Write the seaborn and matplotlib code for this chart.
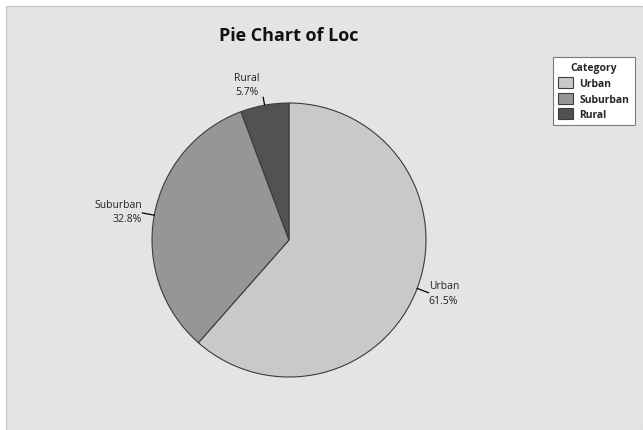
import numpy as np
import matplotlib
matplotlib.use("Agg")
import matplotlib.pyplot as plt
import seaborn as sns
from matplotlib.patches import Rectangle, Patch

categories = ["Urban", "Suburban", "Rural"]
percentages = [61.5, 32.8, 5.7]
pct_labels = ["61.5%", "32.8%", "5.7%"]

sns.set_style("white")
plt.rcParams["font.family"] = ["Open Sans", "DejaVu Sans"]

colors = ["#c9c9c9", "#969696", "#525252"]
W, H = 643, 431
fig = plt.figure(figsize=(W / 100, H / 100), dpi=100, facecolor="white")

# grey panel background
bg = Rectangle((6 / W, 0), 1 - 6 / W, 1 - 7 / H, transform=fig.transFigure,
               facecolor="#e4e4e4", edgecolor="#c4c4c4", linewidth=0.8, zorder=-10)
fig.patches.append(bg)

cx, cy, r = 289, 241, 137
ax = fig.add_axes([(cx - r) / W, (H - cy - r) / H, 2 * r / W, 2 * r / H])
ax.set_zorder(1)
ax.set_facecolor("none")
ax.patch.set_alpha(0)
wedges, _ = ax.pie(percentages, colors=colors, startangle=90, counterclock=False,
                   wedgeprops=dict(edgecolor="#3c3c3c", linewidth=0.8))
ax.set_xlim(-1, 1)
ax.set_ylim(-1, 1)
ax.set_aspect("auto")
ax.axis("off")

# label settings (style only)
style = {
    "Urban": dict(r_end=1.09, ha="left", va="center", dx=0, dy=0),
    "Suburban": dict(r_end=1.09, ha="right", va="center", dx=0, dy=1),
    "Rural": dict(r_end=1.06, ha="center", va="bottom", dx=-12, dy=0),
}
for w, cat, pl in zip(wedges, categories, pct_labels):
    ang = np.deg2rad((w.theta1 + w.theta2) / 2)
    s = style[cat]
    x0, y0 = np.cos(ang), np.sin(ang)
    x1, y1 = s["r_end"] * np.cos(ang), s["r_end"] * np.sin(ang)
    ax.plot([x0, x1], [y0, y1], color="black", linewidth=0.9, clip_on=False)
    ax.annotate(f"{cat}\n{pl}", xy=(x1, y1), xytext=(s["dx"], s["dy"]), textcoords="offset points",
                ha=s["ha"], va=s["va"], multialignment=s["ha"],
                fontsize=7.5, color="#222222", linespacing=1.45, annotation_clip=False)

fig.text(289 / W, 1 - 36 / H, "Pie Chart of Loc", ha="center", va="center",
         fontsize=13, fontweight="bold", color="#111111")

handles = [Patch(facecolor=c, edgecolor="#3c3c3c", linewidth=0.8) for c in colors]
leg = fig.legend(handles, categories, loc="upper left",
                 bbox_to_anchor=(553 / W, 1 - 58 / H), bbox_transform=fig.transFigure,
                 title="Category", title_fontproperties=dict(weight="bold", size=7.5),
                 prop=dict(weight="bold", size=7.5),
                 frameon=True, fancybox=False, framealpha=1, borderaxespad=0,
                 handlelength=1.45, handleheight=1.25, labelspacing=0.35,
                 handletextpad=0.6, borderpad=0.5)
leg.get_frame().set_edgecolor("#7a7a7a")
leg.get_frame().set_linewidth(0.8)
leg.get_frame().set_facecolor("white")

fig.savefig("out.png", dpi=100, facecolor="white")
